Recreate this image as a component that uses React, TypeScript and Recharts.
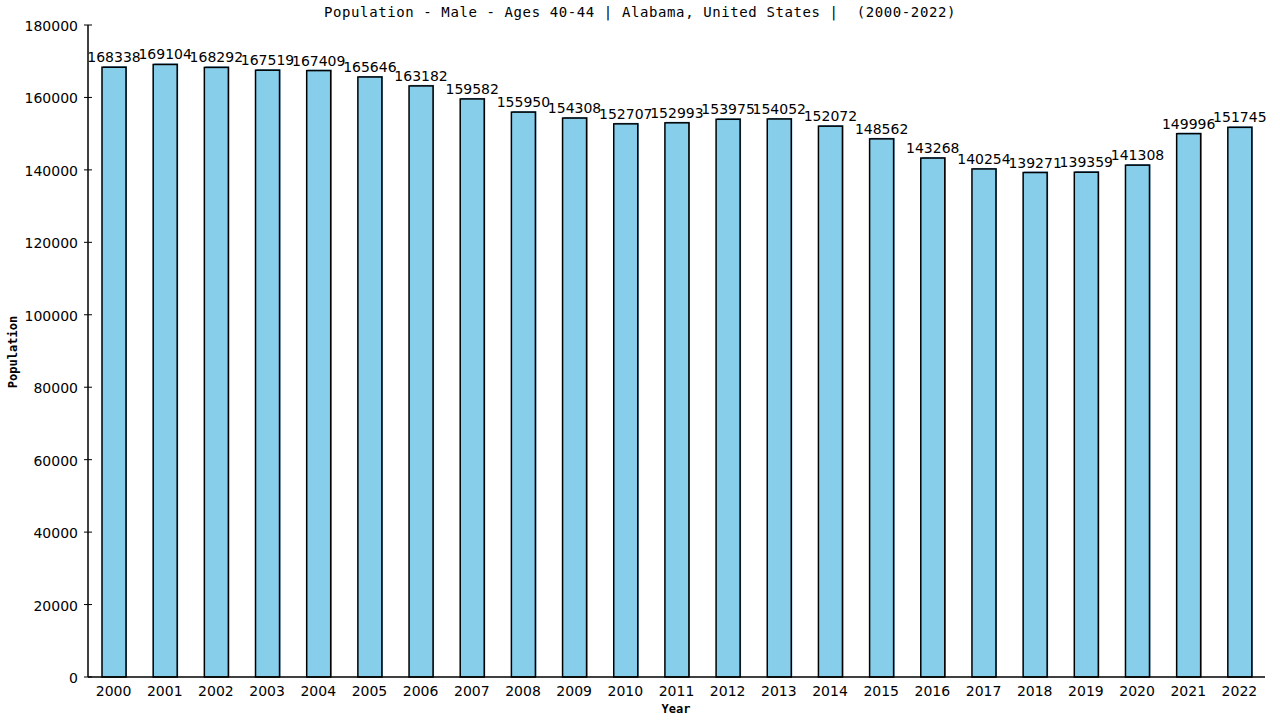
import React from "react";
import { BarChart, Bar, XAxis, YAxis, LabelList } from "recharts";

const years = [
  "2000", "2001", "2002", "2003", "2004", "2005", "2006", "2007", "2008", "2009", "2010", "2011",
  "2012", "2013", "2014", "2015", "2016", "2017", "2018", "2019", "2020", "2021", "2022",
];
const population = [
  168338, 169104, 168292, 167519, 167409, 165646, 163182, 159582, 155950, 154308, 152707, 152993,
  153975, 154052, 152072, 148562, 143268, 140254, 139271, 139359, 141308, 149996, 151745,
];
const yTicks = [0, 20000, 40000, 60000, 80000, 100000, 120000, 140000, 160000, 180000];

const data = years.map((year, i) => ({ year, value: population[i] }));

const font = "'DejaVu Sans', Verdana, sans-serif";
const mono = "'DejaVu Sans Mono', monospace";

function YTick(props: any) {
  const { x, y, payload } = props;
  return (
    <g>
      <line x1={x - 4} x2={x + 4} y1={y} y2={y} stroke="#000" />
      <text x={x - 10} y={y} dy={6} textAnchor="end" fontSize={14} fontFamily={font} fill="#000">
        {payload.value}
      </text>
    </g>
  );
}

function XTick(props: any) {
  const { x, y, payload } = props;
  return (
    <text x={x} y={y} dy={11} textAnchor="middle" fontSize={14} fontFamily={font} fill="#000">
      {payload.value}
    </text>
  );
}

function renderBar(props: any) {
  const x = Number(props.x);
  const y = Number(props.y);
  const width = Number(props.width);
  const height = Number(props.height);
  return (
    <g>
      <rect x={x + 1} y={y - 1} width={width} height={height + 1} fill="#4f93c0" />
      <rect x={x} y={y} width={width} height={height} fill="#87ceeb" stroke="#000" strokeWidth={1.5} />
    </g>
  );
}

export default function App() {
  return (
    <div style={{ position: "fixed", left: 0, top: 0, width: 1280, height: 720, background: "#fff" }}>
      <div
        style={{
          position: "absolute",
          top: 4,
          left: 0,
          width: 1280,
          textAlign: "center",
          fontFamily: mono,
          fontSize: 14,
          letterSpacing: 0.6,
          whiteSpace: "pre",
        }}
      >
        {"Population - Male - Ages 40-44 | Alabama, United States |  (2000-2022)"}
      </div>
      <BarChart
        width={1280}
        height={720}
        data={data}
        barSize={24}
        margin={{ top: 25, right: 15, bottom: 13, left: 0 }}
      >
        <XAxis
          dataKey="year"
          height={30}
          tickLine={false}
          tick={<XTick />}
          axisLine={{ stroke: "#000", strokeWidth: 1.5 }}
          interval={0}
        />
        <YAxis
          yAxisId="left"
          width={88}
          domain={[0, 180000]}
          ticks={yTicks}
          tickSize={0}
          tickMargin={0}
          tickLine={false}
          tick={<YTick />}
          axisLine={{ stroke: "#000", strokeWidth: 1.5 }}
        />
        <YAxis
          yAxisId="right"
          orientation="right"
          width={0}
          domain={[0, 180000]}
          tick={false}
          tickLine={false}
          axisLine={{ stroke: "#000", strokeWidth: 1.5 }}
        />
        <Bar
          yAxisId="left"
          dataKey="value"
          fill="#87ceeb"
          stroke="#000"
          shape={renderBar}
          isAnimationActive={false}
        >
          <LabelList
            dataKey="value"
            position="top"
            offset={5}
            fontSize={14}
            fontFamily={font}
            fill="#000"
          />
        </Bar>
      </BarChart>
      <div
        style={{
          position: "absolute",
          left: 13,
          top: 352,
          transform: "translate(-50%, -50%) rotate(-90deg)",
          fontFamily: mono,
          fontWeight: "bold",
          fontSize: 12,
        }}
      >
        Population
      </div>
      <div
        style={{
          position: "absolute",
          left: 676,
          top: 709,
          transform: "translate(-50%, -50%)",
          fontFamily: mono,
          fontWeight: "bold",
          fontSize: 12,
        }}
      >
        Year
      </div>
    </div>
  );
}
